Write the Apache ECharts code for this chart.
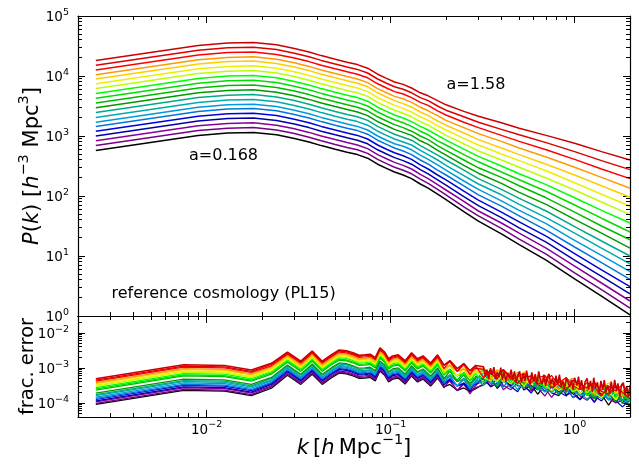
<!DOCTYPE html>
<html><head><meta charset="utf-8">
<script src="https://cdn.jsdelivr.net/npm/echarts@6/dist/echarts.min.js"></script>
<style>html,body{margin:0;padding:0;background:#fff}#c{width:639px;height:464px}</style>
</head><body><div id="c"></div>
<script>
// ---------- DATA ----------
// Top panel: wavenumber k [h/Mpc] and log10 P(k) for 20 snapshots (a = 0.168 ... 1.58)
const kP = [0.0025,0.009,0.013,0.018,0.024,0.030,0.036,0.042,0.050,0.058,0.066,0.075,0.085,0.095,0.105,0.117,0.13,0.145,0.16,0.18,0.2,0.25,0.3,0.4,0.5,0.7,1.0,1.4,2.0];
const P00 = [2.76,3.01,3.05,3.06,3.02,2.96,2.90,2.84,2.78,2.73,2.69,2.63,2.53,2.46,2.40,2.35,2.29,2.20,2.13,2.03,1.94,1.74,1.58,1.37,1.19,0.93,0.62,0.33,0.02];
const P01 = [2.84,3.09,3.13,3.14,3.10,3.04,2.98,2.92,2.86,2.81,2.77,2.71,2.61,2.54,2.48,2.43,2.37,2.28,2.21,2.11,2.02,1.82,1.67,1.46,1.28,1.03,0.72,0.44,0.13];
const P02 = [2.92,3.17,3.21,3.22,3.18,3.12,3.06,3.00,2.94,2.89,2.85,2.79,2.69,2.62,2.56,2.51,2.45,2.36,2.29,2.19,2.10,1.91,1.75,1.55,1.38,1.13,0.83,0.55,0.25];
const P03 = [3.00,3.25,3.29,3.30,3.26,3.20,3.14,3.08,3.02,2.97,2.93,2.87,2.77,2.70,2.64,2.59,2.53,2.44,2.37,2.27,2.18,1.99,1.84,1.64,1.47,1.23,0.93,0.66,0.37];
const P04 = [3.08,3.33,3.37,3.38,3.34,3.28,3.22,3.16,3.10,3.05,3.01,2.95,2.85,2.78,2.72,2.67,2.61,2.52,2.45,2.35,2.27,2.08,1.93,1.73,1.57,1.33,1.04,0.77,0.49];
const P05 = [3.16,3.41,3.45,3.46,3.42,3.36,3.30,3.24,3.18,3.13,3.09,3.03,2.93,2.86,2.80,2.75,2.69,2.60,2.53,2.43,2.35,2.17,2.02,1.83,1.67,1.43,1.15,0.89,0.61];
const P06 = [3.23,3.48,3.52,3.53,3.49,3.43,3.37,3.31,3.25,3.20,3.16,3.10,3.00,2.93,2.87,2.83,2.77,2.68,2.61,2.52,2.43,2.25,2.11,1.92,1.76,1.54,1.26,1.01,0.74];
const P07 = [3.31,3.56,3.60,3.61,3.57,3.51,3.45,3.39,3.33,3.28,3.24,3.18,3.08,3.01,2.95,2.90,2.85,2.76,2.69,2.60,2.51,2.34,2.20,2.02,1.86,1.64,1.38,1.13,0.87];
const P08 = [3.39,3.64,3.68,3.69,3.65,3.59,3.53,3.47,3.41,3.36,3.32,3.26,3.16,3.09,3.03,2.98,2.93,2.84,2.77,2.68,2.60,2.43,2.29,2.11,1.96,1.75,1.49,1.25,1.00];
const P09 = [3.47,3.72,3.76,3.77,3.73,3.67,3.61,3.55,3.49,3.44,3.40,3.34,3.24,3.17,3.11,3.06,3.01,2.92,2.86,2.76,2.68,2.51,2.38,2.21,2.06,1.86,1.61,1.38,1.13];
const P10 = [3.55,3.80,3.84,3.85,3.81,3.75,3.69,3.63,3.57,3.52,3.48,3.42,3.32,3.25,3.19,3.14,3.08,3.00,2.94,2.84,2.76,2.60,2.47,2.31,2.17,1.97,1.73,1.50,1.27];
const P11 = [3.63,3.88,3.92,3.93,3.89,3.83,3.77,3.71,3.65,3.60,3.56,3.50,3.40,3.33,3.27,3.22,3.16,3.08,3.02,2.92,2.85,2.69,2.57,2.40,2.27,2.08,1.85,1.63,1.40];
const P12 = [3.71,3.96,4.00,4.01,3.97,3.91,3.85,3.79,3.73,3.68,3.64,3.58,3.48,3.41,3.35,3.30,3.24,3.16,3.10,3.01,2.93,2.78,2.66,2.50,2.37,2.19,1.97,1.76,1.55];
const P13 = [3.79,4.04,4.08,4.09,4.05,3.99,3.93,3.87,3.81,3.76,3.72,3.66,3.56,3.49,3.43,3.38,3.32,3.24,3.18,3.09,3.01,2.87,2.75,2.60,2.48,2.30,2.10,1.90,1.69];
const P14 = [3.87,4.12,4.16,4.17,4.13,4.07,4.01,3.95,3.89,3.84,3.80,3.74,3.64,3.57,3.51,3.46,3.40,3.32,3.26,3.17,3.10,2.96,2.85,2.70,2.59,2.42,2.22,2.03,1.83];
const P15 = [3.95,4.20,4.24,4.25,4.21,4.15,4.09,4.03,3.97,3.92,3.88,3.82,3.72,3.65,3.59,3.54,3.48,3.40,3.34,3.25,3.18,3.05,2.94,2.80,2.69,2.53,2.35,2.17,1.98];
const P16 = [4.02,4.27,4.31,4.32,4.28,4.22,4.16,4.10,4.04,3.99,3.95,3.89,3.79,3.72,3.66,3.62,3.56,3.48,3.42,3.34,3.26,3.14,3.04,2.91,2.80,2.65,2.48,2.31,2.13];
const P17 = [4.10,4.35,4.39,4.40,4.36,4.30,4.24,4.18,4.12,4.07,4.03,3.97,3.87,3.80,3.74,3.70,3.64,3.56,3.51,3.42,3.35,3.23,3.14,3.01,2.91,2.77,2.61,2.45,2.29];
const P18 = [4.18,4.43,4.47,4.48,4.44,4.38,4.32,4.26,4.20,4.15,4.11,4.05,3.95,3.88,3.82,3.78,3.72,3.64,3.59,3.50,3.43,3.32,3.23,3.11,3.02,2.89,2.74,2.59,2.44];
const P19 = [4.26,4.51,4.55,4.56,4.52,4.46,4.40,4.34,4.28,4.23,4.19,4.13,4.03,3.96,3.90,3.86,3.80,3.72,3.67,3.59,3.52,3.41,3.33,3.22,3.13,3.01,2.88,2.74,2.60];

// Bottom panel: k bins and log10 of the fractional error, same 20 snapshots
const kErr = [0.0025,0.0075,0.0125,0.0175,0.0225,0.0275,0.0325,0.0375,0.0425,0.0475,0.0525,0.0575,0.0625,0.0675,0.0725,0.0775,0.0825,0.0875,0.0925,0.0975,0.1025,0.11,0.12,0.13,0.14,0.15,0.165,0.18,0.195,0.21,0.23,0.25,0.27,0.29,0.32,0.35,0.38,0.41,0.45,0.49,0.53,0.58,0.63,0.69,0.75,0.82,0.9,0.98,1.07,1.17,1.28,1.4,1.53,1.67,1.82,2.0];
// the last snapshot (drawn on top) is read on a finer k grid at high k
const kErrLast = [0.0025,0.0075,0.0125,0.0175,0.0225,0.0275,0.0325,0.0375,0.0425,0.0475,0.0525,0.0575,0.0625,0.0675,0.0725,0.0775,0.0825,0.0875,0.0925,0.0975,0.1025,0.11,0.12,0.13,0.14,0.15,0.165,0.18,0.195,0.21,0.23,0.25,0.27,0.29,
  0.320,0.327,0.334,0.341,0.349,0.356,0.364,0.372,0.380,0.388,0.397,0.405,0.414,0.423,0.433,0.442,0.452,0.461,0.471,0.482,0.492,0.503,0.514,0.525,0.537,0.548,0.560,0.573,0.585,0.598,0.611,0.624,0.638,0.652,0.666,0.681,0.695,0.711,0.726,0.742,0.758,0.775,0.792,0.809,0.827,0.845,0.863,0.882,0.901,0.921,0.941,0.961,0.982,1.00,1.03,1.05,1.07,1.09,1.12,1.14,1.17,1.19,1.22,1.25,1.27,1.30,1.33,1.36,1.39,1.42,1.45,1.48,1.51,1.55,1.58,1.62,1.65,1.69,1.72,1.76,1.80,1.84,1.88,1.92,1.96,2.00];
const E00 = [-4.04,-3.64,-3.66,-3.79,-3.58,-3.21,-3.47,-3.18,-3.47,-3.29,-3.15,-3.17,-3.23,-3.30,-3.29,-3.27,-3.37,-3.09,-3.20,-3.40,-3.32,-3.29,-3.46,-3.23,-3.40,-3.32,-3.52,-3.29,-3.54,-3.47,-3.64,-3.57,-3.68,-3.59,-3.46,-3.29,-3.58,-3.36,-3.52,-3.32,-3.63,-3.49,-3.75,-3.49,-3.67,-3.46,-3.77,-3.69,-3.89,-3.64,-3.87,-3.75,-4.06,-3.77,-4.00,-3.78];
const E01 = [-4.01,-3.61,-3.63,-3.76,-3.54,-3.18,-3.44,-3.15,-3.44,-3.26,-3.12,-3.14,-3.20,-3.27,-3.26,-3.24,-3.34,-3.06,-3.17,-3.37,-3.29,-3.26,-3.43,-3.20,-3.37,-3.29,-3.49,-3.26,-3.57,-3.35,-3.65,-3.46,-3.74,-3.50,-3.28,-3.51,-3.29,-3.50,-3.62,-3.42,-3.34,-3.62,-3.57,-3.80,-3.51,-3.68,-3.54,-3.85,-3.74,-3.68,-3.97,-3.69,-3.88,-3.99,-3.79,-4.08];
const E02 = [-3.97,-3.57,-3.59,-3.72,-3.51,-3.15,-3.41,-3.12,-3.41,-3.23,-3.09,-3.11,-3.17,-3.24,-3.23,-3.21,-3.31,-3.03,-3.14,-3.34,-3.26,-3.23,-3.40,-3.17,-3.34,-3.26,-3.46,-3.23,-3.46,-3.38,-3.64,-3.42,-3.64,-3.56,-3.49,-3.35,-3.29,-3.62,-3.46,-3.32,-3.55,-3.66,-3.46,-3.58,-3.84,-3.57,-3.69,-3.52,-3.80,-3.92,-3.72,-3.87,-3.69,-4.00,-3.92,-3.83];
const E03 = [-3.94,-3.54,-3.56,-3.69,-3.47,-3.11,-3.37,-3.08,-3.37,-3.19,-3.05,-3.07,-3.13,-3.20,-3.19,-3.17,-3.27,-2.99,-3.10,-3.30,-3.22,-3.19,-3.36,-3.13,-3.30,-3.22,-3.42,-3.19,-3.49,-3.31,-3.51,-3.45,-3.65,-3.42,-3.31,-3.54,-3.43,-3.27,-3.53,-3.68,-3.39,-3.51,-3.62,-3.45,-3.71,-3.79,-3.56,-3.74,-3.91,-3.68,-3.80,-3.94,-3.70,-3.93,-4.11,-3.91];
const E04 = [-3.90,-3.50,-3.52,-3.65,-3.44,-3.08,-3.34,-3.05,-3.34,-3.16,-3.02,-3.04,-3.10,-3.17,-3.16,-3.14,-3.24,-2.96,-3.07,-3.27,-3.19,-3.16,-3.33,-3.10,-3.27,-3.19,-3.39,-3.16,-3.41,-3.34,-3.51,-3.44,-3.55,-3.46,-3.38,-3.29,-3.58,-3.39,-3.26,-3.51,-3.49,-3.72,-3.46,-3.66,-3.55,-3.68,-3.80,-3.57,-3.75,-3.72,-3.98,-3.69,-3.91,-3.80,-3.92,-4.09];
const E05 = [-3.87,-3.47,-3.49,-3.62,-3.41,-3.05,-3.31,-3.02,-3.31,-3.13,-2.99,-3.01,-3.07,-3.14,-3.13,-3.11,-3.21,-2.93,-3.04,-3.24,-3.16,-3.13,-3.30,-3.07,-3.24,-3.16,-3.36,-3.13,-3.44,-3.22,-3.52,-3.33,-3.61,-3.37,-3.14,-3.45,-3.31,-3.55,-3.27,-3.45,-3.25,-3.56,-3.48,-3.68,-3.43,-3.65,-3.53,-3.85,-3.56,-3.79,-3.57,-3.85,-3.67,-3.96,-3.76,-3.94];
const E06 = [-3.83,-3.43,-3.45,-3.58,-3.37,-3.02,-3.28,-2.99,-3.28,-3.10,-2.96,-2.98,-3.04,-3.11,-3.10,-3.08,-3.18,-2.90,-3.01,-3.21,-3.13,-3.10,-3.27,-3.04,-3.21,-3.13,-3.33,-3.10,-3.33,-3.25,-3.51,-3.29,-3.51,-3.43,-3.23,-3.15,-3.43,-3.36,-3.57,-3.28,-3.46,-3.32,-3.63,-3.52,-3.46,-3.74,-3.46,-3.66,-3.77,-3.57,-3.86,-3.66,-3.88,-3.66,-3.89,-4.03];
const E07 = [-3.79,-3.39,-3.41,-3.54,-3.34,-2.99,-3.25,-2.96,-3.25,-3.07,-2.93,-2.95,-3.01,-3.08,-3.07,-3.05,-3.15,-2.87,-2.98,-3.18,-3.10,-3.07,-3.24,-3.01,-3.18,-3.10,-3.30,-3.07,-3.37,-3.19,-3.39,-3.33,-3.53,-3.30,-3.14,-3.37,-3.48,-3.26,-3.36,-3.62,-3.36,-3.48,-3.31,-3.59,-3.71,-3.50,-3.65,-3.48,-3.79,-3.71,-3.62,-3.88,-3.73,-3.67,-4.02,-3.88];
const E08 = [-3.76,-3.36,-3.38,-3.51,-3.30,-2.95,-3.21,-2.92,-3.21,-3.03,-2.89,-2.91,-2.97,-3.04,-3.03,-3.01,-3.11,-2.83,-2.94,-3.14,-3.06,-3.03,-3.20,-2.97,-3.14,-3.06,-3.26,-3.03,-3.28,-3.21,-3.38,-3.31,-3.42,-3.33,-3.49,-3.20,-3.32,-3.41,-3.22,-3.48,-3.57,-3.34,-3.52,-3.69,-3.46,-3.57,-3.71,-3.48,-3.71,-3.89,-3.69,-3.69,-3.91,-3.80,-3.66,-3.94];
const E09 = [-3.72,-3.32,-3.34,-3.47,-3.27,-2.92,-3.18,-2.89,-3.18,-3.00,-2.86,-2.88,-2.94,-3.01,-3.00,-2.98,-3.08,-2.80,-2.91,-3.11,-3.03,-3.00,-3.17,-2.94,-3.11,-3.03,-3.23,-3.00,-3.31,-3.09,-3.39,-3.20,-3.48,-3.24,-3.33,-3.31,-3.54,-3.26,-3.44,-3.33,-3.47,-3.59,-3.36,-3.54,-3.51,-3.76,-3.47,-3.70,-3.59,-3.71,-3.88,-3.77,-3.67,-3.96,-3.79,-3.68];
const E10 = [-3.63,-3.23,-3.25,-3.38,-3.18,-2.84,-3.10,-2.81,-3.10,-2.92,-2.78,-2.80,-2.86,-2.93,-2.92,-2.90,-3.00,-2.72,-2.83,-3.03,-2.95,-2.92,-3.09,-2.86,-3.03,-2.95,-3.15,-2.92,-3.17,-3.09,-3.35,-3.13,-3.35,-3.27,-3.25,-3.05,-3.36,-3.26,-3.44,-3.19,-3.42,-3.30,-3.62,-3.33,-3.56,-3.33,-3.61,-3.44,-3.73,-3.53,-3.71,-3.51,-3.81,-3.67,-3.93,-3.67];
const E11 = [-3.60,-3.20,-3.22,-3.35,-3.14,-2.81,-3.07,-2.78,-3.07,-2.89,-2.75,-2.77,-2.83,-2.90,-2.89,-2.87,-2.97,-2.69,-2.80,-3.00,-2.92,-2.89,-3.06,-2.83,-3.00,-2.92,-3.12,-2.89,-3.21,-3.03,-3.23,-3.17,-3.37,-3.14,-3.08,-3.26,-3.12,-3.41,-3.28,-3.22,-3.51,-3.23,-3.43,-3.54,-3.34,-3.62,-3.42,-3.65,-3.43,-3.66,-3.80,-3.60,-3.51,-3.79,-3.74,-3.97];
const E12 = [-3.56,-3.16,-3.18,-3.31,-3.11,-2.77,-3.03,-2.74,-3.03,-2.85,-2.71,-2.73,-2.79,-2.86,-2.85,-2.83,-2.93,-2.65,-2.76,-2.96,-2.88,-2.85,-3.02,-2.79,-2.96,-2.88,-3.08,-2.85,-3.12,-3.05,-3.22,-3.15,-3.26,-3.17,-3.42,-3.16,-3.28,-3.09,-3.35,-3.47,-3.27,-3.42,-3.25,-3.56,-3.48,-3.38,-3.64,-3.50,-3.44,-3.79,-3.65,-3.51,-3.73,-3.84,-3.64,-3.76];
const E13 = [-3.52,-3.12,-3.14,-3.27,-3.08,-2.74,-3.00,-2.71,-3.00,-2.82,-2.68,-2.70,-2.76,-2.83,-2.82,-2.80,-2.90,-2.62,-2.73,-2.93,-2.85,-2.82,-2.99,-2.76,-2.93,-2.85,-3.05,-2.82,-3.15,-2.93,-3.23,-3.04,-3.32,-3.08,-3.28,-3.37,-3.14,-3.30,-3.45,-3.22,-3.34,-3.48,-3.25,-3.48,-3.66,-3.45,-3.45,-3.68,-3.57,-3.43,-3.71,-3.86,-3.56,-3.68,-3.79,-3.62];
const E14 = [-3.49,-3.09,-3.11,-3.24,-3.04,-2.71,-2.97,-2.68,-2.97,-2.79,-2.65,-2.67,-2.73,-2.80,-2.79,-2.77,-2.87,-2.59,-2.70,-2.90,-2.82,-2.79,-2.96,-2.73,-2.90,-2.82,-3.02,-2.79,-3.04,-2.96,-3.22,-3.00,-3.22,-3.14,-3.13,-3.27,-3.39,-3.14,-3.30,-3.27,-3.53,-3.24,-3.47,-3.36,-3.48,-3.64,-3.53,-3.44,-3.73,-3.56,-3.45,-3.70,-3.67,-3.90,-3.64,-3.84];
const E15 = [-3.45,-3.05,-3.07,-3.20,-3.01,-2.68,-2.94,-2.65,-2.94,-2.76,-2.62,-2.64,-2.70,-2.77,-2.76,-2.74,-2.84,-2.56,-2.67,-2.87,-2.79,-2.76,-2.93,-2.70,-2.87,-2.79,-2.99,-2.76,-3.08,-2.90,-3.10,-3.04,-3.24,-3.01,-3.00,-3.23,-3.11,-3.41,-3.10,-3.33,-3.11,-3.39,-3.22,-3.51,-3.31,-3.48,-3.28,-3.59,-3.45,-3.71,-3.45,-3.63,-3.42,-3.73,-3.65,-3.85];
const E16 = [-3.42,-3.02,-3.04,-3.17,-2.97,-2.65,-2.91,-2.62,-2.91,-2.73,-2.59,-2.61,-2.67,-2.74,-2.73,-2.71,-2.81,-2.53,-2.64,-2.84,-2.76,-2.73,-2.90,-2.67,-2.84,-2.76,-2.96,-2.73,-3.00,-2.93,-3.10,-3.03,-3.14,-3.05,-3.04,-3.33,-3.05,-3.23,-3.32,-3.12,-3.41,-3.21,-3.44,-3.22,-3.45,-3.58,-3.38,-3.30,-3.58,-3.53,-3.76,-3.47,-3.64,-3.50,-3.81,-3.70];
const E17 = [-3.38,-2.98,-3.00,-3.13,-2.94,-2.61,-2.87,-2.58,-2.87,-2.69,-2.55,-2.57,-2.63,-2.70,-2.69,-2.67,-2.77,-2.49,-2.60,-2.80,-2.72,-2.69,-2.86,-2.63,-2.80,-2.72,-2.92,-2.69,-3.02,-2.80,-3.10,-2.91,-3.19,-2.95,-3.28,-3.08,-3.23,-3.04,-3.33,-3.25,-3.16,-3.42,-3.28,-3.22,-3.57,-3.42,-3.28,-3.51,-3.62,-3.42,-3.54,-3.80,-3.53,-3.65,-3.48,-3.76];
const E18 = [-3.35,-2.95,-2.97,-3.10,-2.90,-2.58,-2.84,-2.55,-2.84,-2.66,-2.52,-2.54,-2.60,-2.67,-2.66,-2.64,-2.74,-2.46,-2.57,-2.77,-2.69,-2.66,-2.83,-2.60,-2.77,-2.69,-2.89,-2.66,-2.91,-2.83,-3.09,-2.87,-3.09,-3.01,-3.04,-3.16,-3.30,-3.05,-3.26,-3.44,-3.24,-3.24,-3.47,-3.36,-3.22,-3.49,-3.64,-3.35,-3.47,-3.58,-3.41,-3.67,-3.75,-3.52,-3.70,-3.87];
const E19 = [-3.31,-2.91,-2.93,-3.06,-2.87,-2.55,-2.81,-2.52,-2.81,-2.63,-2.49,-2.51,-2.57,-2.64,-2.63,-2.61,-2.71,-2.43,-2.54,-2.74,-2.66,-2.63,-2.80,-2.57,-2.74,-2.66,-2.86,-2.63,-2.93,-2.79,-3.02,-2.88,-3.08,-2.93,
  -2.97,-3.24,-3.05,-3.32,-3.01,-3.20,-2.98,-3.31,-3.12,-3.27,-2.99,-3.34,-3.09,-3.39,-3.14,-3.29,-3.05,-3.35,-3.10,-3.42,-3.20,-3.10,-3.42,-3.16,-3.37,-3.08,-3.33,-3.48,-3.13,-3.38,-3.18,-3.46,-3.10,-3.35,-3.46,-3.19,-3.51,-3.26,-3.17,-3.47,-3.30,-3.55,-3.22,-3.47,-3.19,-3.53,-3.37,-3.60,-3.28,-3.24,-3.54,-3.34,-3.62,-3.28,-3.50,-3.25,-3.60,-3.35,-3.68,-3.40,-3.30,-3.61,-3.37,-3.68,-3.28,-3.58,-3.41,-3.74,-3.37,-3.63,-3.35,-3.70,-3.49,-3.74,-3.39,-3.68,-3.34,-3.66,-3.44,-3.82,-3.48,-3.42,-3.78,-3.52,-3.82,-3.49];

// Annotations
const labelFirst = 'a=0.168';
const labelLast = 'a=1.58';
const labelCosmo = 'reference cosmology (PL15)';

// ---------- STYLE ----------
const colors = ['#000000','#770088','#880099','#0000aa','#0000dd','#0077dd','#0099dd','#00aaaa','#00aa88','#009900',
                '#00bb00','#00dd00','#00ff00','#bbff00','#eeee00','#ffcc00','#ff9900','#ff0000','#dd0000','#cc0000'];
const FONT = 'DejaVu Sans';
const pCurves = [P00,P01,P02,P03,P04,P05,P06,P07,P08,P09,P10,P11,P12,P13,P14,P15,P16,P17,P18,P19];
const eCurves = [E00,E01,E02,E03,E04,E05,E06,E07,E08,E09,E10,E11,E12,E13,E14,E15,E16,E17,E18,E19];
const eK = eCurves.map((_, i) => i === 19 ? kErrLast : kErr);

const X_MIN = 0.002, X_MAX = 2;
const YP_MIN = 1, YP_MAX = 1e5;
const YE_MIN = 4e-5, YE_MAX = 0.03;

function decadeLabel(v){
  const l = Math.log10(v), e = Math.round(l);
  if (Math.abs(l - e) > 1e-6) return '';
  return '{b|10}{s|' + (e < 0 ? '\u2212' + (-e) : String(e)) + '}';
}
const tickRich = {
  b:{fontFamily:FONT,fontSize:13.5,color:'#000',lineHeight:17,verticalAlign:'bottom'},
  s:{fontFamily:FONT,fontSize:9.5,color:'#000',lineHeight:6,verticalAlign:'top'}
};
const nameRich = {
  i:{fontFamily:FONT,fontStyle:'italic',fontSize:21,color:'#000',lineHeight:26,verticalAlign:'bottom'},
  n:{fontFamily:FONT,fontSize:21,color:'#000',lineHeight:26,verticalAlign:'bottom'},
  s:{fontFamily:FONT,fontSize:14.5,color:'#000',lineHeight:11,verticalAlign:'top'},
  f:{fontFamily:FONT,fontSize:19.5,color:'#000',lineHeight:24}
};
const lineSt = {color:'#000',width:1.2};
function mkAxis(type, grid, pos, min, max, showLabel, extra){
  return Object.assign({
    type:'log', logBase:10, gridIndex:grid, position:pos, min:min, max:max,
    axisLine:{show:true,onZero:false,lineStyle:lineSt},
    axisTick:{show:true,inside:true,length:7,lineStyle:{color:'#000',width:1}},
    axisLabel:{show:showLabel,formatter:decadeLabel,rich:tickRich,margin:type==='x'?3:9,color:'#000'},
    splitLine:{show:false}, minorTick:{show:false}, minorSplitLine:{show:false},
    nameMoveOverlap:false
  }, extra||{});
}

function minorVals(lo, hi){
  const out = [];
  for (let d = -6; d <= 6; d++) for (let m = 2; m <= 9; m++){
    const v = m * Math.pow(10, d);
    if (v > lo * 1.0001 && v < hi * 0.9999) out.push(v);
  }
  return out;
}
function minorTickSeries(xi, yi, yMin, yMax){
  const data = minorVals(X_MIN, X_MAX).map(v => [v, yMin, 0])
    .concat(minorVals(yMin, yMax).map(v => [X_MIN, v, 1]));
  const L = 4, st = {stroke:'#000', lineWidth:1};
  const crisp = p => Math.round(p - 0.5) + 0.5;
  return {
    type:'custom', xAxisIndex:xi, yAxisIndex:yi, silent:true, animation:false, clip:false, z:10,
    data:data,
    renderItem:function(params, api){
      const kind = api.value(2);
      if (kind === 0){
        const x = api.value(0);
        const a = api.coord([x, yMin]), b = api.coord([x, yMax]);
        const cx = crisp(a[0]);
        return {type:'group', children:[
          {type:'line', shape:{x1:cx,y1:a[1],x2:cx,y2:a[1]-L}, style:st},
          {type:'line', shape:{x1:cx,y1:b[1],x2:cx,y2:b[1]+L}, style:st}]};
      }
      const y = api.value(1);
      const a = api.coord([X_MIN, y]), b = api.coord([X_MAX, y]);
      const cy = crisp(a[1]);
      return {type:'group', children:[
        {type:'line', shape:{x1:a[0],y1:cy,x2:a[0]+L,y2:cy}, style:st},
        {type:'line', shape:{x1:b[0],y1:cy,x2:b[0]-L,y2:cy}, style:st}]};
    }
  };
}

const series = [];
pCurves.forEach((arr, i) => {
  series.push({type:'line', xAxisIndex:0, yAxisIndex:0, silent:true, animation:false,
    symbol:'none', showSymbol:false, z:2,
    data: kP.map((k, j) => [k, Math.pow(10, arr[j])]),
    lineStyle:{color:colors[i], width:1.5}, itemStyle:{color:colors[i]}});
});
eCurves.forEach((arr, i) => {
  series.push({type:'line', xAxisIndex:2, yAxisIndex:2, silent:true, animation:false,
    symbol:'none', showSymbol:false, z:2,
    data: eK[i].map((k, j) => [k, Math.pow(10, arr[j])]),
    lineStyle:{color:colors[i], width: i === 19 ? 1.6 : 1.25}, itemStyle:{color:colors[i]}});
});
series.push(minorTickSeries(0, 0, YP_MIN, YP_MAX));
series.push(minorTickSeries(2, 2, YE_MIN, YE_MAX));

const option = {
  backgroundColor:'#ffffff',
  animation:false,
  grid:[
    {left:78, width:552, top:16, height:300, containLabel:false, outerBoundsMode:'none'},
    {left:78, width:552, top:316, height:101, containLabel:false, outerBoundsMode:'none'}
  ],
  xAxis:[
    mkAxis('x',0,'bottom',X_MIN,X_MAX,false),
    mkAxis('x',0,'top',X_MIN,X_MAX,false),
    mkAxis('x',1,'bottom',X_MIN,X_MAX,true,{
      name:'{i|k}{n|\u2009[}{i|h}{n|\u2009Mpc}{s|\u22121}{n|]}', nameLocation:'middle', nameGap:16,
      nameTextStyle:{rich:nameRich}}),
    mkAxis('x',1,'top',X_MIN,X_MAX,false)
  ],
  yAxis:[
    mkAxis('y',0,'left',YP_MIN,YP_MAX,true,{
      name:'{i|P}{n|(}{i|k}{n|) [}{i|h}{s|\u22123}{n| Mpc}{s|3}{n|]}', nameLocation:'middle', nameGap:35, nameRotate:90,
      nameTextStyle:{rich:nameRich}}),
    mkAxis('y',0,'right',YP_MIN,YP_MAX,false),
    mkAxis('y',1,'left',YE_MIN,YE_MAX,true,{
      name:'{f|frac. error}', nameLocation:'middle', nameGap:38, nameRotate:90,
      nameTextStyle:{rich:nameRich}}),
    mkAxis('y',1,'right',YE_MIN,YE_MAX,false)
  ],
  graphic:[
    {type:'text', x:189, y:155.5, silent:true, style:{text:labelFirst, font:'16px "DejaVu Sans"', fill:'#000', verticalAlign:'middle'}},
    {type:'text', x:446.5, y:84.5, silent:true, style:{text:labelLast, font:'16px "DejaVu Sans"', fill:'#000', verticalAlign:'middle'}},
    {type:'text', x:111.5, y:294, silent:true, style:{text:labelCosmo, font:'16px "DejaVu Sans"', fill:'#000', verticalAlign:'middle'}}
  ],
  series:series
};
const chart = echarts.init(document.getElementById('c'), null, {renderer:'canvas', width:639, height:464});
chart.setOption(option);
</script>
</body></html>
